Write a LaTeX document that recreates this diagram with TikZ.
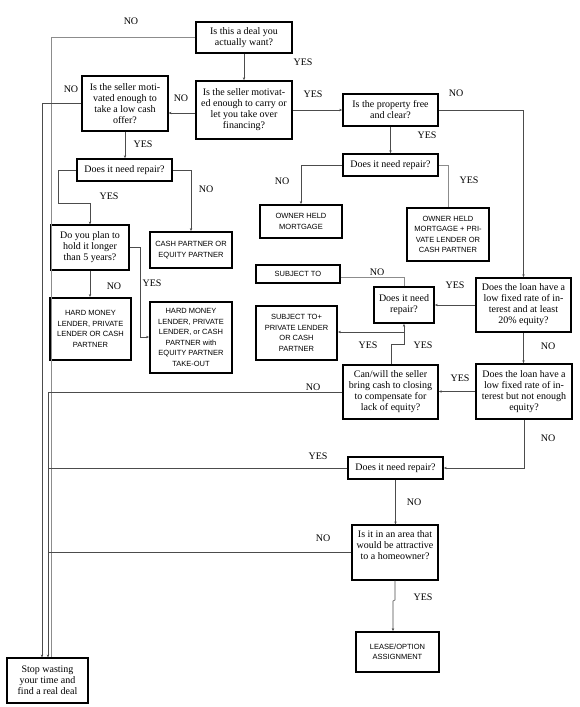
\documentclass[tikz,border=0pt]{standalone}
\usepackage{fontspec}
\setmainfont{Liberation Serif}
\setsansfont{Liberation Sans}
\usetikzlibrary{arrows.meta}
\newcommand\mybox[7]{\node[#2, minimum width={(#5-#3)*1pt}, minimum height={(#6-#4)*1pt}] (#1) at ({(#3+#5)/2},{(#4+#6)/2}) {#7};}
\begin{document}
\begin{tikzpicture}[x=1pt,y=-1pt,
  qbox/.style={draw, line width=1.6pt, inner sep=0pt, align=center, font=\fontsize{10}{11}\selectfont},
  qmbox/.style={qbox, line width=1.1pt},
  outbox/.style={draw, line width=1.8pt, inner sep=0pt, align=center, font=\sffamily\fontsize{7.5}{10.5}\selectfont},
  conn/.style={draw=black!70, line width=0.6pt},
  connl/.style={draw=black!45, line width=0.7pt},
  arr/.style={conn, -{Stealth[length=3pt,width=2.4pt]}},
  lab/.style={font=\fontsize{10}{11}\selectfont, inner sep=0pt}]
\useasboundingbox (0,0) rectangle (580,707);
\fill[white] (0,0) rectangle (580,707);
% question boxes
\mybox{A}{qbox}{196}{22}{292}{53}{Is this a deal you\\actually want?}
\mybox{B}{qbox}{196}{81}{292}{139}{Is the seller motivat-\\ed enough to carry or\\let you take over\\financing?}
\mybox{C}{qmbox}{82}{76}{168}{131}{Is the seller moti-\\vated enough to\\take a low cash\\offer?}
\mybox{D}{qbox}{77}{159}{172}{181}{Does it need repair?}
\mybox{E}{qbox}{343}{94}{438}{126}{Is the property free\\and clear?}
\mybox{F}{qbox}{343}{154}{438}{176}{Does it need repair?}
\mybox{I}{qmbox}{51}{225}{129}{270}{Do you plan to\\hold it longer\\than 5 years?}
\mybox{M}{qbox}{476}{278}{571}{332}{Does the loan have a\\low fixed rate of in-\\terest and at least\\20\% equity?}
\mybox{N}{qbox}{374}{287}{434}{323}{Does it need\\repair?}
\mybox{Q}{qbox}{343}{365}{438}{419}{Can/will the seller\\bring cash to closing\\to compensate for\\lack of equity?}
\mybox{R}{qbox}{476}{364}{572}{419}{Does the loan have a\\low fixed rate of in-\\terest but not enough\\equity?}
\mybox{S}{qbox}{348}{457}{443}{479}{Does it need repair?}
\mybox{T}{qmbox}{352}{525}{438}{580}{Is it in an area that\\would be attractive\\to a homeowner?\\[3pt]\mbox{}}
\mybox{V}{qmbox}{7}{658}{88}{703}{Stop wasting\\your time and\\find a real deal}
% outcome boxes
\mybox{G}{outbox}{260}{205}{342}{238}{OWNER HELD\\MORTGAGE}
\mybox{H}{outbox}{407}{208}{489}{261}{OWNER HELD\\MORTGAGE + PRI-\\VATE LENDER OR\\CASH PARTNER}
\mybox{J}{outbox}{150}{232}{232}{268}{CASH PARTNER OR\\EQUITY PARTNER}
\mybox{K}{outbox}{50}{298}{131}{360}{HARD MONEY\\LENDER, PRIVATE\\LENDER OR CASH\\PARTNER}
\mybox{L}{outbox}{150}{302}{232}{373}{HARD MONEY\\LENDER, PRIVATE\\LENDER, or CASH\\PARTNER with\\EQUITY PARTNER\\TAKE-OUT}
\mybox{O}{outbox}{256}{265}{340}{283}{SUBJECT TO}
\mybox{P}{outbox}{256}{306}{337}{360}{SUBJECT TO+\\PRIVATE LENDER\\OR CASH\\PARTNER}
\mybox{U}{outbox}{356}{632}{439}{672}{LEASE/OPTION\\ASSIGNMENT}
% connectors
\draw[arr] (A.south) -- (A.south |- B.north);
\draw[arr] (B.west |- 0,113) -- (C.east |- 0,113);
\draw[arr] (B.east) -- (B.east -| E.west);
\draw[connl] (A.west) -| (51,0 |- V.north);
\draw[arr] (C.west) -| (42,0 |- V.north);
\draw[arr] (C.south) -- (C.south |- D.north);
\draw[arr] (D.west) -- (58,0 |- D.west) -- (58,203) -- (I.north |- 0,203) -- (I.north);
\draw[arr] (D.east) -| (J.north);
\draw[arr] (I.south) -- (I.south |- K.north);
\draw[arr] (I.east) -- (140,0 |- I.east) |- (L.west |- 0,337);
\draw[arr] (E.south) -- (E.south |- F.north);
\draw[arr] (E.east) -| (M.north);
\draw[arr] (F.west) -| (G.north);
\draw[connl] (F.east) -| (H.north);
\draw[arr] (M.west) -- (M.west -| N.east);
\draw[connl] (N.north) -- (N.north |- 0,277) -- (O.east |- 0,277);
\draw[arr] (N.south |- 0,332) -- (P.east |- 0,332);
\draw[arr] (Q.north -| 391,0) -- (391,344) -- (N.south |- 0,344) -- (N.south);
\draw[arr] (M.south) -- (M.south |- R.north);
\draw[arr] (R.west) -- (R.west -| Q.east);
\draw[conn] (Q.west) -- (48,0 |- Q.west);
\draw[arr] (R.south) |- (S.east);
\draw[conn] (S.west) -- (48,0 |- S.west);
\draw[arr] (S.south) -- (S.south |- T.north);
\draw[conn] (T.west) -- (48,0 |- T.west);
\draw[arr] (T.south) -- (T.south |- 0,600) -- (393,601) -- (393,0 |- U.north);
\draw[arr] (48,0 |- Q.west) -- (48,0 |- V.north);
% labels
\node[lab] (l1) at (131,21) {NO};
\node[lab] (l2) at (303,62) {YES};
\node[lab] (l3) at (181,98) {NO};
\node[lab] (l4) at (71,89) {NO};
\node[lab] (l5) at (313,94) {YES};
\node[lab] (l6) at (456,93) {NO};
\node[lab] (l7) at (143,144) {YES};
\node[lab] (l8) at (427,135) {YES};
\node[lab] (l9) at (109,196) {YES};
\node[lab] (l10) at (206,189) {NO};
\node[lab] (l11) at (282,181) {NO};
\node[lab] (l12) at (469,180) {YES};
\node[lab] (l13) at (114,286) {NO};
\node[lab] (l14) at (152,283) {YES};
\node[lab] (l15) at (377,272) {NO};
\node[lab] (l16) at (455,285) {YES};
\node[lab] (l17) at (368,345) {YES};
\node[lab] (l18) at (423,345) {YES};
\node[lab] (l19) at (548,346) {NO};
\node[lab] (l20) at (460,378) {YES};
\node[lab] (l21) at (313,387) {NO};
\node[lab] (l22) at (548,438) {NO};
\node[lab] (l23) at (318,456) {YES};
\node[lab] (l24) at (414,502) {NO};
\node[lab] (l25) at (323,538) {NO};
\node[lab] (l26) at (423,597) {YES};
\end{tikzpicture}
\end{document}
